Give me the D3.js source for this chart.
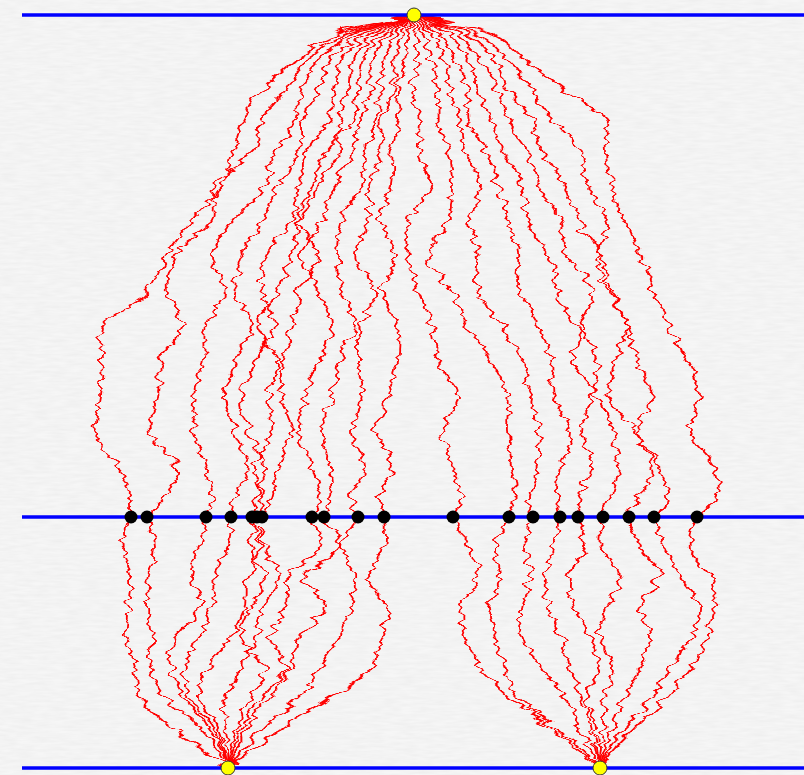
<!DOCTYPE html>
<html>
<head>
<meta charset="utf-8">
<script src="https://cdn.jsdelivr.net/npm/d3@7"></script>
<style>
  html, body { margin: 0; padding: 0; background: #f4f4f4; }
  svg { display: block; }
</style>
</head>
<body>
<script>
// Brownian bridges: a common start at the top, a set of crossing points on the
// middle barrier, and two common end points at the bottom.

// time levels (0 = top barrier, 1 = middle barrier, 1.5 = bottom barrier)
const upperTimes = [0, 0.04, 0.09, 0.15, 0.21, 0.27, 0.34, 0.41, 0.48, 0.55, 0.62, 0.69, 0.76, 0.83, 0.90, 0.96, 1];
const lowerTimes = [1, 1.06, 1.12, 1.18, 1.24, 1.30, 1.36, 1.41, 1.46, 1.5];

// start and end points (position units)
const startPoint = 414;
const endPoints = [228, 600];

// crossing points on the middle barrier
const crossings = [131, 147, 206, 231, 252, 257, 262, 312, 324, 358, 384,
                   453, 509, 533, 560, 578, 603, 629, 654, 697];

// upper path positions at upperTimes, one row per crossing
const upperPaths = [
  [414,335,295,262,244,234,222,192,166,148,104,102,100, 95,118,130,131],
  [414,345,305,285,262,255,215,212,175,168,182,160,158,150,178,165,147],
  [414,352,318,300,295,275,265,232,213,225,205,203,195,193,205,212,206],
  [414,360,330,318,302,300,278,262,240,235,252,236,225,235,248,235,231],
  [414,368,340,335,328,308,298,292,265,262,275,255,240,250,265,258,252],
  [414,375,352,348,338,338,318,300,292,278,258,278,268,272,255,264,257],
  [414,382,362,358,352,325,312,298,318,298,292,282,282,292,278,272,262],
  [414,388,372,370,360,352,335,322,302,318,332,318,305,298,312,320,312],
  [414,395,385,380,378,365,362,342,338,342,355,338,332,322,330,332,324],
  [414,402,395,394,382,382,370,368,355,375,360,358,362,352,365,352,358],
  [414,408,405,398,400,392,390,378,395,382,398,398,388,375,392,378,384],
  [414,416,418,412,420,418,432,408,408,418,432,438,458,442,452,462,453],
  [414,424,432,438,438,448,452,448,428,452,468,492,508,508,512,515,509],
  [414,432,445,450,460,465,482,468,478,478,502,522,532,538,538,528,533],
  [414,440,455,468,468,488,498,508,518,518,538,552,552,572,560,558,560],
  [414,450,468,478,492,502,522,528,548,558,578,598,592,582,592,580,578],
  [414,460,480,498,508,528,538,560,568,592,582,572,598,612,618,612,603],
  [414,470,495,508,532,542,565,578,602,612,628,638,652,638,652,638,629],
  [414,480,508,532,552,578,588,607,598,609,628,615,610,635,658,667,654],
  [414,495,525,565,604,607,612,625,640,655,667,688,700,690,715,717,697]
];

// lower path positions at lowerTimes, one row per crossing
const lowerPaths = [
  [131,122,130,128,126,135,140,165,200,228],
  [147,155,150,148,152,150,165,195,215,228],
  [206,200,192,200,175,170,185,205,220,228],
  [231,228,212,212,200,185,190,210,222,228],
  [252,260,248,245,230,210,200,215,224,228],
  [257,265,280,262,255,240,225,225,228,228],
  [262,250,265,250,240,265,250,240,232,228],
  [312,320,290,285,270,285,262,245,235,228],
  [324,340,305,325,300,290,270,250,238,228],
  [358,340,355,350,340,320,300,268,245,228],
  [384,385,368,390,380,372,330,290,255,228],
  [453,468,478,462,465,480,510,545,575,600],
  [509,495,500,490,495,505,520,550,580,600],
  [533,525,530,520,525,540,565,575,590,600],
  [560,555,545,548,560,570,580,590,596,600],
  [578,585,570,575,590,600,585,595,598,600],
  [603,600,620,605,600,615,605,605,602,600],
  [629,640,660,640,650,640,625,615,606,600],
  [654,665,680,700,690,670,650,630,610,600],
  [697,690,712,715,705,690,665,640,615,600]
];

// barrier levels
const barriers = [0, 1, 1.5];

const width = 804, height = 775;

const x = d3.scaleLinear().domain([0, 804]).range([0, width]);
const y = d3.scaleLinear().domain([0, 1.5]).range([15, 768]);

const svg = d3.select("body").append("svg")
  .attr("width", width)
  .attr("height", height);

const defs = svg.append("defs");

// paper grain for the background
const grain = defs.append("filter")
  .attr("id", "grain")
  .attr("filterUnits", "userSpaceOnUse")
  .attr("x", 0).attr("y", 0).attr("width", width).attr("height", height);
grain.append("feTurbulence")
  .attr("type", "fractalNoise")
  .attr("baseFrequency", "0.06 0.35")
  .attr("numOctaves", 2)
  .attr("seed", 7)
  .attr("result", "noise");
grain.append("feColorMatrix")
  .attr("in", "noise")
  .attr("type", "matrix")
  .attr("values", "0 0 0 0 0.55  0 0 0 0 0.55  0 0 0 0 0.55  0 0 0 0.22 -0.05");

// rough pen for the walk traces: sideways wobble that changes along the trace
const rough = defs.append("filter")
  .attr("id", "rough")
  .attr("filterUnits", "userSpaceOnUse")
  .attr("x", 0).attr("y", 0).attr("width", width).attr("height", height);
rough.append("feTurbulence")
  .attr("type", "fractalNoise")
  .attr("baseFrequency", "0.022 0.14")
  .attr("numOctaves", 2)
  .attr("seed", 5)
  .attr("result", "turb");
rough.append("feDisplacementMap")
  .attr("in", "SourceGraphic")
  .attr("in2", "turb")
  .attr("scale", 16)
  .attr("xChannelSelector", "R")
  .attr("yChannelSelector", "A");

svg.append("rect")
  .attr("width", width).attr("height", height)
  .attr("fill", "#f6f6f6");
svg.append("rect")
  .attr("width", width).attr("height", height)
  .attr("fill", "#fff")
  .attr("filter", "url(#grain)");

const line = d3.line()
  .x(d => x(d[0]))
  .y(d => y(d[1]))
  .curve(d3.curveCatmullRom.alpha(0.5));

const traces = svg.append("g")
  .attr("filter", "url(#rough)")
  .attr("fill", "none")
  .attr("stroke", "#ff0000")
  .attr("stroke-width", 1.8);

traces.selectAll("path.upper")
  .data(upperPaths)
  .join("path")
  .attr("class", "upper")
  .attr("d", row => line(row.map((v, i) => [v, upperTimes[i]])));

traces.selectAll("path.lower")
  .data(lowerPaths)
  .join("path")
  .attr("class", "lower")
  .attr("d", row => line(row.map((v, i) => [v, lowerTimes[i]])));

// barriers
svg.selectAll("line.barrier")
  .data(barriers)
  .join("line")
  .attr("class", "barrier")
  .attr("x1", x(22)).attr("x2", x(804))
  .attr("y1", d => y(d)).attr("y2", d => y(d))
  .attr("stroke", "#0000ff")
  .attr("stroke-width", 3.5);

// crossing points
svg.selectAll("circle.crossing")
  .data(crossings)
  .join("circle")
  .attr("class", "crossing")
  .attr("cx", d => x(d))
  .attr("cy", y(1))
  .attr("r", 6.5)
  .attr("fill", "#000");

// start and end points
const anchors = [[startPoint, 0]].concat(endPoints.map(p => [p, 1.5]));
svg.selectAll("circle.anchor")
  .data(anchors)
  .join("circle")
  .attr("class", "anchor")
  .attr("cx", d => x(d[0]))
  .attr("cy", d => y(d[1]))
  .attr("r", 7)
  .attr("fill", "#ffff00")
  .attr("stroke", "#333")
  .attr("stroke-width", 1);
</script>
</body>
</html>
